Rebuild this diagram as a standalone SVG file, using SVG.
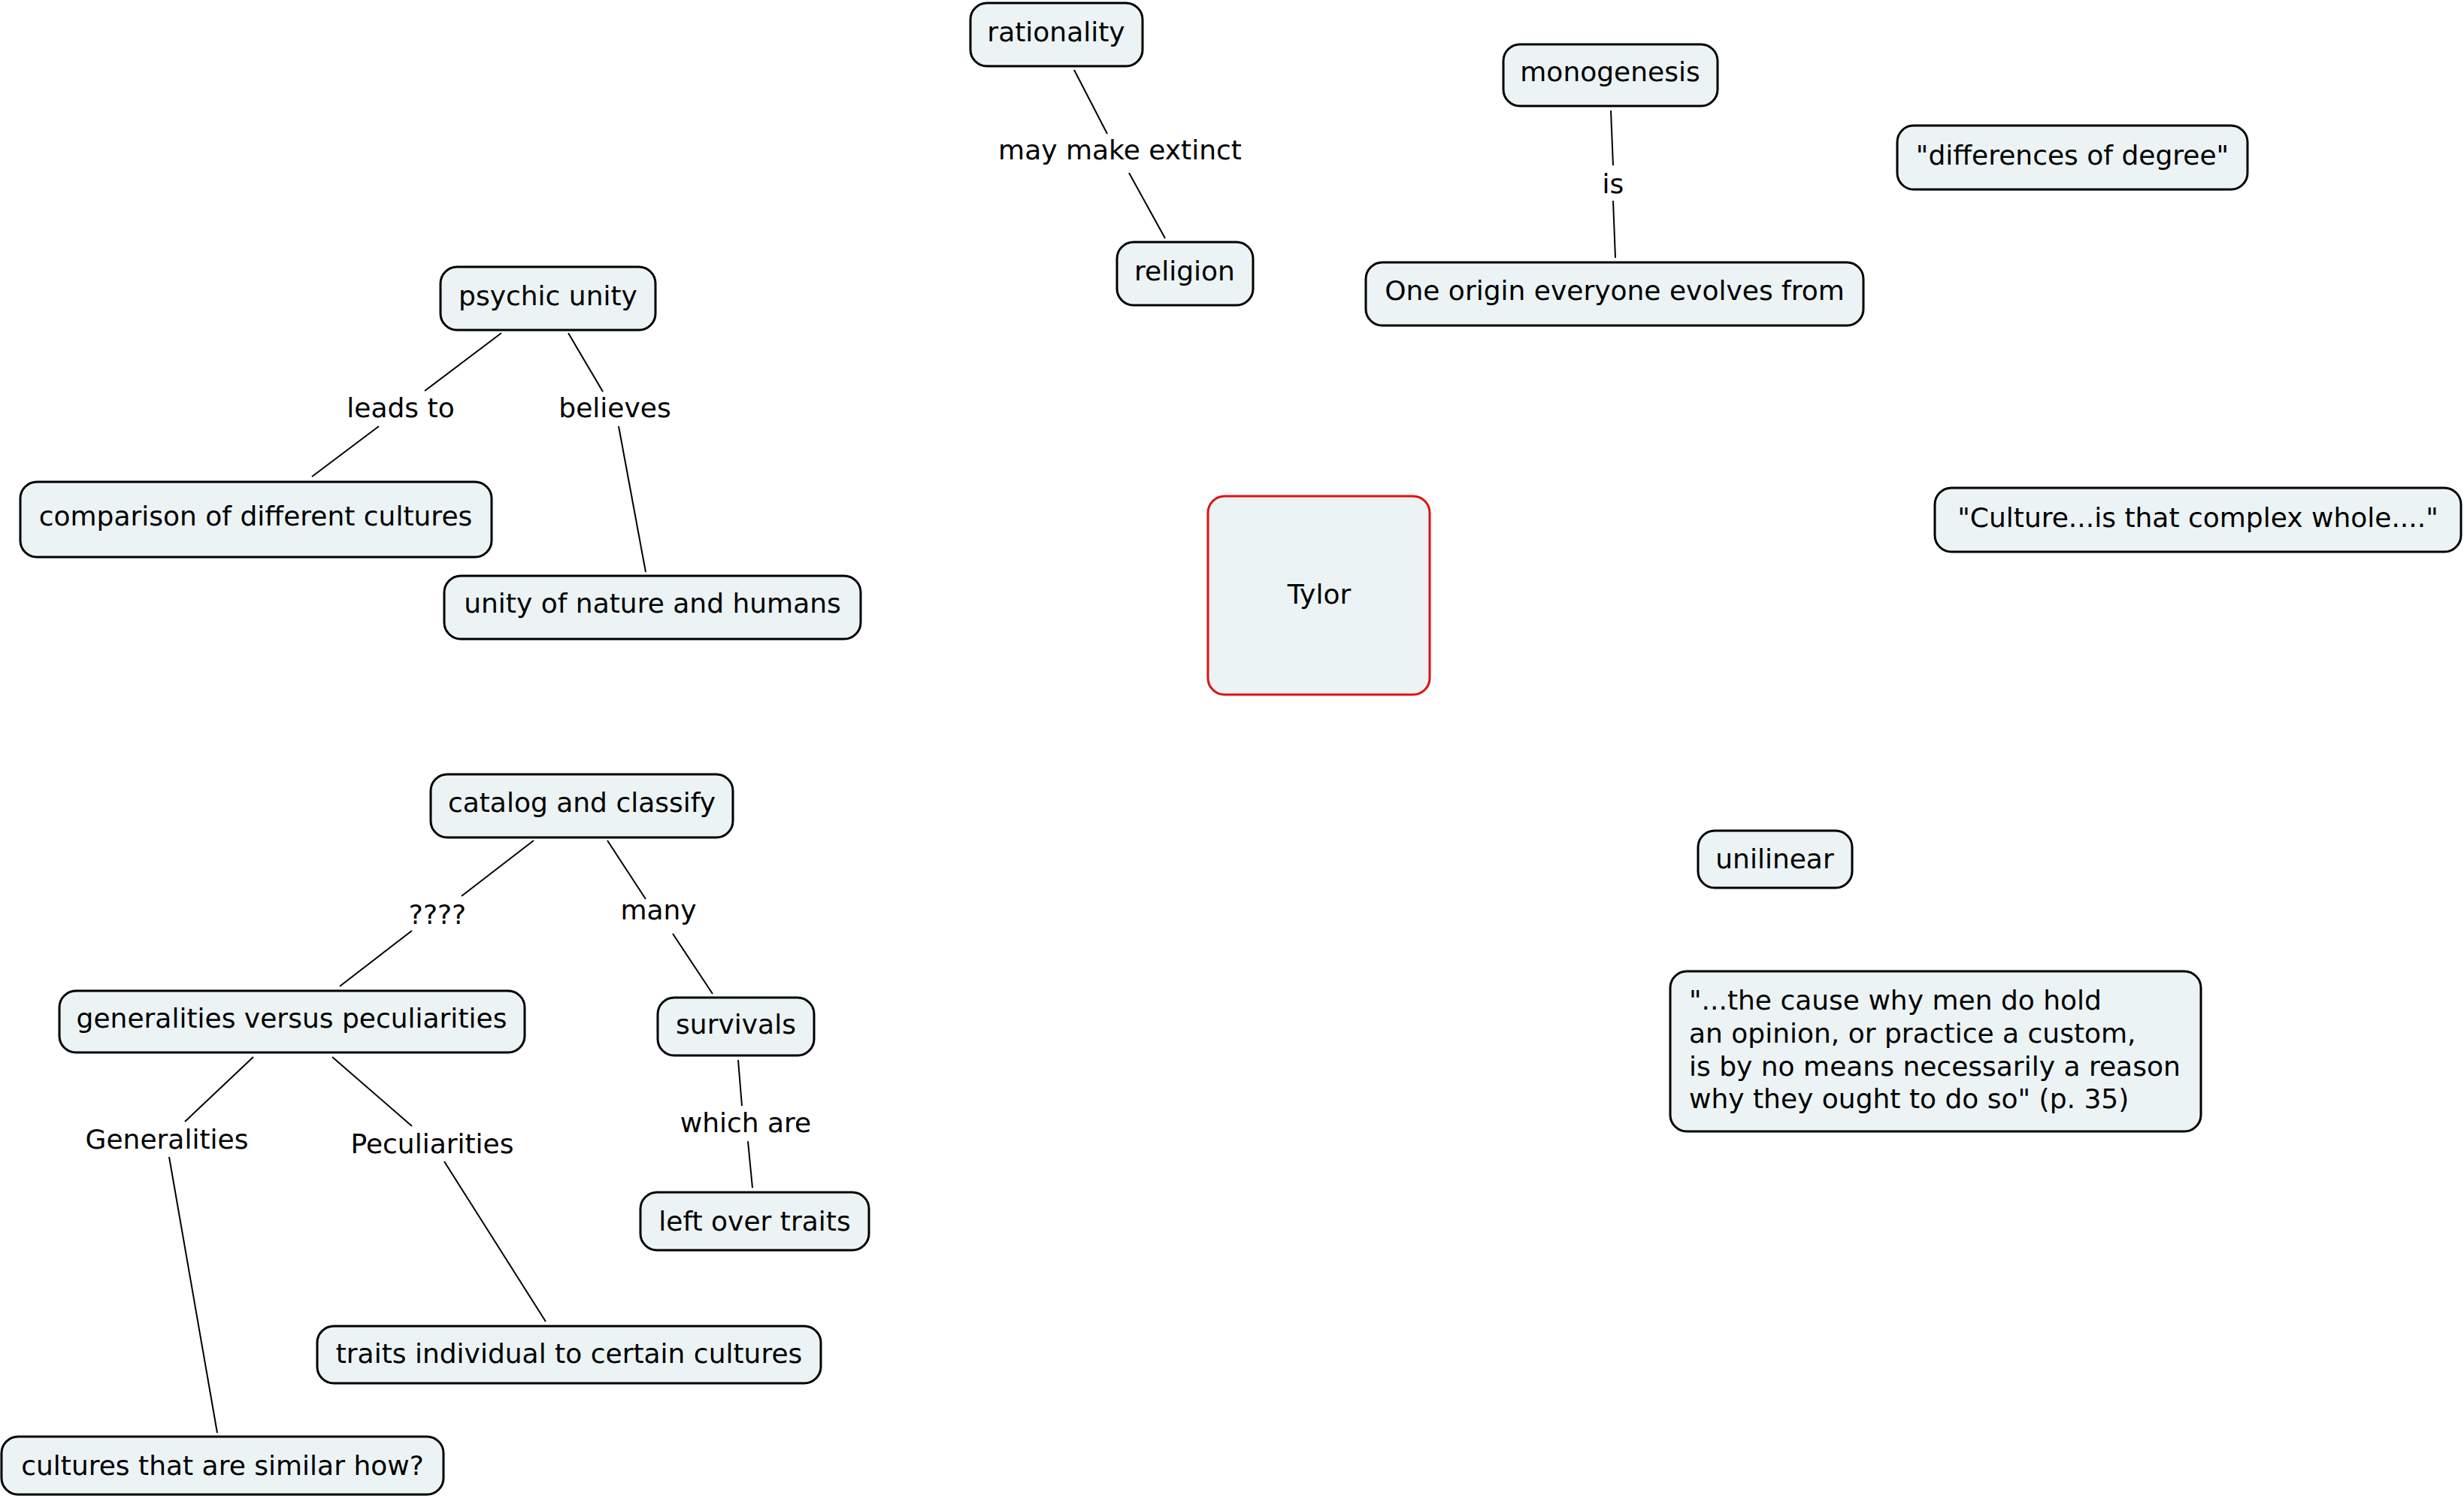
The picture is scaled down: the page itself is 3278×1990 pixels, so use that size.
<svg xmlns="http://www.w3.org/2000/svg" width="3278" height="1990" viewBox="0 0 3278 1990">
<style>
.n rect{fill:#ECF3F5;stroke:#000;stroke-width:3}
.n.root rect{stroke:#E01010}
text{font-family:"DejaVu Sans","Verdana",sans-serif;font-size:36px;fill:#000}
.c{text-anchor:middle}
#connectors line{stroke:#000;stroke-width:2}
</style>
<rect x="0" y="0" width="3278" height="1990" fill="#fff"/>
<g id="connectors">
<line x1="1429" y1="93" x2="1473" y2="178"/>
<line x1="1502" y1="230" x2="1550" y2="317"/>
<line x1="2143" y1="147" x2="2146" y2="220"/>
<line x1="2146" y1="267" x2="2149" y2="343"/>
<line x1="667" y1="443" x2="565" y2="520"/>
<line x1="504" y1="567" x2="415" y2="634"/>
<line x1="756" y1="443" x2="802" y2="521"/>
<line x1="823" y1="567" x2="859" y2="761"/>
<line x1="710" y1="1118" x2="614" y2="1192"/>
<line x1="548" y1="1238" x2="452" y2="1312"/>
<line x1="808" y1="1118" x2="859" y2="1196"/>
<line x1="895" y1="1242" x2="948" y2="1322"/>
<line x1="337" y1="1406" x2="246" y2="1492"/>
<line x1="225" y1="1539" x2="289" y2="1906"/>
<line x1="442" y1="1406" x2="548" y2="1498"/>
<line x1="591" y1="1545" x2="726" y2="1758"/>
<line x1="982" y1="1410" x2="987" y2="1471"/>
<line x1="995" y1="1518" x2="1001" y2="1580"/>
<text class="c" x="1490" y="212">may make extinct</text>
<text class="c" x="2146" y="257">is</text>
<text class="c" x="533" y="555">leads to</text>
<text class="c" x="818" y="555">believes</text>
<text class="c" x="582" y="1229">????</text>
<text class="c" x="876" y="1223">many</text>
<text class="c" x="222" y="1528">Generalities</text>
<text class="c" x="575" y="1534">Peculiarities</text>
<text class="c" x="992" y="1506">which are</text>
</g>
<g id="n-rationality" class="n"><rect x="1291" y="4" width="229" height="84" rx="22"/><text class="c" x="1405" y="55">rationality</text></g>
<g id="n-religion" class="n"><rect x="1486" y="322" width="181" height="84" rx="22"/><text class="c" x="1576" y="373">religion</text></g>
<g id="n-monogenesis" class="n"><rect x="2000" y="59" width="285" height="82" rx="22"/><text class="c" x="2142" y="108">monogenesis</text></g>
<g id="n-origin" class="n"><rect x="1817" y="349" width="662" height="84" rx="22"/><text class="c" x="2148" y="399">One origin everyone evolves from</text></g>
<g id="n-degree" class="n"><rect x="2524" y="167" width="466" height="85" rx="22"/><text class="c" x="2757" y="219">"differences of degree"</text></g>
<g id="n-psychic" class="n"><rect x="586" y="355" width="286" height="84" rx="22"/><text class="c" x="729" y="406">psychic unity</text></g>
<g id="n-comparison" class="n"><rect x="27" y="641" width="627" height="100" rx="22"/><text class="c" x="340" y="699">comparison of different cultures</text></g>
<g id="n-unity" class="n"><rect x="591" y="766" width="554" height="84" rx="22"/><text class="c" x="868" y="815">unity of nature and humans</text></g>
<g id="n-tylor" class="n root"><rect x="1607" y="660" width="295" height="264" rx="22"/><text class="c" x="1755" y="803">Tylor</text></g>
<g id="n-culture" class="n"><rect x="2574" y="649" width="700" height="85" rx="22"/><text class="c" x="2924" y="701">"Culture...is that complex whole...."</text></g>
<g id="n-unilinear" class="n"><rect x="2259" y="1105" width="205" height="76" rx="22"/><text class="c" x="2361" y="1155">unilinear</text></g>
<g id="n-quote" class="n"><rect x="2222" y="1292" width="706" height="213" rx="22"/>
<text x="2247" y="1343">"...the cause why men do hold</text>
<text x="2247" y="1387">an opinion, or practice a custom,</text>
<text x="2247" y="1431">is by no means necessarily a reason</text>
<text x="2247" y="1474">why they ought to do so" (p. 35)</text></g>
<g id="n-catalog" class="n"><rect x="573" y="1030" width="402" height="84" rx="22"/><text class="c" x="774" y="1080">catalog and classify</text></g>
<g id="n-genvpec" class="n"><rect x="79" y="1318" width="619" height="82" rx="22"/><text class="c" x="388" y="1367">generalities versus peculiarities</text></g>
<g id="n-survivals" class="n"><rect x="875" y="1327" width="208" height="77" rx="22"/><text class="c" x="979" y="1375">survivals</text></g>
<g id="n-leftover" class="n"><rect x="852" y="1586" width="304" height="77" rx="22"/><text class="c" x="1004" y="1637">left over traits</text></g>
<g id="n-individual" class="n"><rect x="422" y="1764" width="670" height="76" rx="22"/><text class="c" x="757" y="1813">traits individual to certain cultures</text></g>
<g id="n-similar" class="n"><rect x="2" y="1911" width="588" height="77" rx="22"/><text class="c" x="296" y="1962">cultures that are similar how?</text></g>
</svg>
